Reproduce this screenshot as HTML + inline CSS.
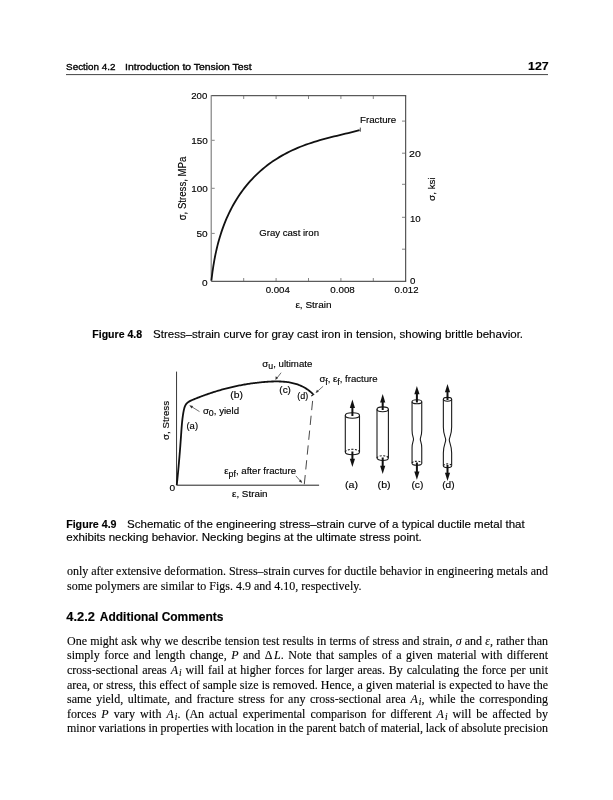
<!DOCTYPE html>
<html><head><meta charset="utf-8">
<style>
html,body{margin:0;padding:0;background:#fff;}
body{width:613px;height:800px;position:relative;overflow:hidden;}
.a{position:absolute;white-space:nowrap;}
.body{font-family:"Liberation Serif",serif;font-size:12px;line-height:14px;color:#000;left:67px;width:481px;}
.body i{font-style:italic;}
.body sub{font-size:9.5px;vertical-align:baseline;position:relative;top:1.5px;margin-left:1px;}
svg{position:absolute;left:0;top:0;will-change:transform;}
.body{will-change:transform;-webkit-text-stroke:0.12px #000;}
svg text{font-family:"Liberation Sans",sans-serif;fill:#000;stroke:#000;stroke-width:0.15px;}
</style></head>
<body>
<svg width="613" height="800" viewBox="0 0 613 800">
  <line x1="66" y1="74.6" x2="548" y2="74.6" stroke="#444" stroke-width="1"/>

  <!-- Figure 4.8 chart -->
  <g stroke="#333" fill="none" stroke-width="1">
    <line x1="211.2" y1="95.7" x2="406.2" y2="95.7"/>
    <line x1="405.7" y1="95.7" x2="405.7" y2="281.3"/>
    <line x1="211.2" y1="281.3" x2="406.2" y2="281.3"/>
  </g>
  <line x1="211.2" y1="95.2" x2="211.2" y2="281.3" stroke="#777" stroke-width="1.1"/>
  <g stroke="#666" stroke-width="0.8">
    <line x1="211.8" y1="140.3" x2="214.7" y2="140.3"/>
    <line x1="211.8" y1="188.3" x2="214.7" y2="188.3"/>
    <line x1="211.8" y1="233.4" x2="214.7" y2="233.4"/>
    <line x1="243.7" y1="281" x2="243.7" y2="278"/>
    <line x1="276.1" y1="281" x2="276.1" y2="278"/>
    <line x1="308.5" y1="281" x2="308.5" y2="278"/>
    <line x1="340.9" y1="281" x2="340.9" y2="278"/>
    <line x1="373.3" y1="281" x2="373.3" y2="278"/>
    <line x1="243.7" y1="96" x2="243.7" y2="99"/>
    <line x1="276.1" y1="96" x2="276.1" y2="99"/>
    <line x1="308.5" y1="96" x2="308.5" y2="99"/>
    <line x1="340.9" y1="96" x2="340.9" y2="99"/>
    <line x1="373.3" y1="96" x2="373.3" y2="99"/>
    <line x1="405.2" y1="121.1" x2="402" y2="121.1"/>
    <line x1="405.2" y1="153.2" x2="402" y2="153.2"/>
    <line x1="405.2" y1="184.3" x2="402" y2="184.3"/>
    <line x1="405.2" y1="217.3" x2="402" y2="217.3"/>
    <line x1="405.2" y1="249.2" x2="402" y2="249.2"/>
  </g>
  <path d="M211.40,280.55 L211.75,277.59 L212.12,274.65 L212.51,271.73 L212.93,268.82 L213.37,265.92 L213.84,263.03 L214.35,260.15 L214.89,257.28 L215.46,254.42 L216.07,251.57 L216.72,248.73 L217.40,245.90 L218.13,243.07 L218.90,240.26 L219.71,237.45 L220.57,234.66 L221.47,231.88 L222.42,229.11 L223.42,226.36 L224.46,223.62 L225.56,220.90 L226.70,218.20 L227.90,215.52 L229.15,212.86 L230.45,210.23 L231.80,207.62 L233.21,205.04 L234.67,202.50 L236.18,199.98 L237.74,197.49 L239.36,195.04 L241.03,192.63 L242.75,190.25 L244.53,187.92 L246.35,185.63 L248.23,183.38 L250.16,181.17 L252.14,179.02 L254.16,176.91 L256.24,174.84 L258.36,172.83 L260.53,170.87 L262.74,168.96 L265.00,167.11 L267.30,165.31 L269.64,163.56 L272.02,161.86 L274.43,160.22 L276.89,158.64 L279.38,157.11 L281.91,155.64 L284.46,154.22 L287.05,152.85 L289.67,151.53 L292.31,150.27 L294.98,149.06 L297.67,147.90 L300.38,146.79 L303.12,145.72 L305.87,144.70 L308.64,143.73 L311.42,142.79 L314.22,141.89 L317.03,141.03 L319.85,140.20 L322.68,139.41 L325.51,138.63 L328.35,137.89 L331.19,137.16 L334.04,136.45 L336.88,135.76 L339.73,135.07 L342.58,134.39 L345.42,133.71 L348.26,133.02 L351.10,132.32 L353.93,131.61 L356.76,130.88 L359.59,130.12" stroke="#111" stroke-width="1.8" fill="none" stroke-linejoin="round"/>
  <line x1="360.3" y1="127.6" x2="360.3" y2="131.7" stroke="#333" stroke-width="0.9"/>

  <!-- Figure 4.9 chart -->
  <line x1="176.55" y1="371.6" x2="176.55" y2="485.1" stroke="#222" stroke-width="0.9"/>
  <line x1="176.5" y1="485.2" x2="319.1" y2="485.2" stroke="#222" stroke-width="1"/>
  <path d="M176.76,485.00 L176.88,483.92 L176.99,482.83 L177.10,481.75 L177.22,480.66 L177.33,479.58 L177.44,478.49 L177.54,477.41 L177.65,476.33 L177.76,475.24 L177.86,474.16 L177.97,473.08 L178.07,472.00 L178.17,470.92 L178.28,469.84 L178.38,468.76 L178.48,467.68 L178.58,466.60 L178.67,465.52 L178.77,464.44 L178.87,463.36 L178.96,462.28 L179.06,461.20 L179.15,460.12 L179.24,459.04 L179.34,457.96 L179.43,456.88 L179.52,455.80 L179.61,454.73 L179.69,453.65 L179.78,452.57 L179.87,451.49 L179.95,450.41 L180.04,449.33 L180.12,448.25 L180.21,447.17 L180.29,446.09 L180.37,445.01 L180.45,443.93 L180.53,442.85 L180.61,441.76 L180.69,440.68 L180.77,439.60 L180.85,438.52 L180.92,437.43 L181.00,436.35 L181.07,435.27 L181.15,434.18 L181.22,433.10 L181.30,432.01 L181.37,430.92 L181.45,429.84 L181.53,428.75 L181.61,427.66 L181.70,426.58 L181.79,425.49 L181.88,424.40 L181.98,423.31 L182.08,422.22 L182.19,421.13 L182.31,420.04 L182.44,418.95 L182.57,417.86 L182.72,416.77 L182.87,415.68 L183.03,414.59 L183.21,413.50 L183.39,412.41 L183.59,411.32 L183.80,410.24 L184.04,409.16 L184.32,408.11 L184.64,407.10 L185.01,406.12 L185.46,405.20 L185.97,404.34 L186.57,403.55 L187.27,402.83 L188.05,402.20 L188.92,401.63 L189.85,401.12 L190.82,400.65 L191.82,400.20 L192.84,399.78 L193.85,399.35 L194.87,398.94 L195.89,398.52 L196.91,398.11 L197.93,397.71 L198.95,397.31 L199.97,396.92 L200.99,396.53 L202.01,396.14 L203.03,395.76 L204.06,395.38 L205.08,395.01 L206.10,394.65 L207.13,394.29 L208.16,393.93 L209.18,393.58 L210.21,393.23 L211.24,392.89 L212.27,392.55 L213.30,392.22 L214.33,391.89 L215.36,391.56 L216.39,391.25 L217.43,390.93 L218.46,390.62 L219.50,390.32 L220.54,390.02 L221.58,389.73 L222.61,389.44 L223.65,389.15 L224.70,388.87 L225.74,388.60 L226.78,388.33 L227.83,388.06 L228.87,387.80 L229.92,387.55 L230.97,387.29 L232.02,387.05 L233.07,386.81 L234.12,386.57 L235.18,386.34 L236.23,386.12 L237.29,385.90 L238.35,385.68 L239.41,385.47 L240.47,385.26 L241.53,385.06 L242.59,384.87 L243.66,384.68 L244.72,384.49 L245.79,384.31 L246.86,384.13 L247.93,383.96 L249.01,383.80 L250.08,383.64 L251.16,383.48 L252.23,383.33 L253.31,383.19 L254.40,383.05 L255.48,382.91 L256.56,382.78 L257.65,382.65 L258.74,382.54 L259.83,382.42 L260.92,382.31 L262.01,382.21 L263.11,382.11 L264.21,382.01 L265.31,381.92 L266.41,381.84 L267.51,381.76 L268.61,381.69 L269.72,381.63 L270.82,381.57 L271.93,381.52 L273.03,381.49 L274.14,381.46 L275.24,381.44 L276.34,381.43 L277.45,381.43 L278.54,381.45 L279.64,381.48 L280.73,381.52 L281.83,381.57 L282.91,381.64 L284.00,381.73 L285.08,381.83 L286.15,381.94 L287.22,382.08 L288.29,382.23 L289.35,382.40 L290.40,382.58 L291.45,382.79 L292.49,383.02 L293.53,383.27 L294.56,383.53 L295.58,383.82 L296.59,384.14 L297.59,384.47 L298.59,384.83 L299.58,385.22 L300.55,385.62 L301.52,386.06 L302.48,386.52 L303.43,387.00 L304.37,387.52 L305.29,388.06 L306.21,388.63 L307.11,389.23 L308.01,389.85 L308.89,390.51 L309.75,391.20 L310.61,391.92 L311.45,392.67 L312.28,393.46 L313.09,394.28" stroke="#111" stroke-width="1.8" fill="none" stroke-linejoin="round"/>
  <line x1="311.2" y1="396.1" x2="314.2" y2="394.1" stroke="#111" stroke-width="1.1"/>
  <path d="M312.6,400.9 L304.25,484.8" stroke="#333" stroke-width="0.9" stroke-dasharray="9.3,5.6" fill="none"/>
  <g stroke="#333" stroke-width="0.7" fill="none">
    <line x1="199.5" y1="411.6" x2="190.8" y2="406.2"/>
    <line x1="281.1" y1="372.7" x2="276.6" y2="378.6"/>
    <line x1="323.1" y1="386.3" x2="317" y2="391.7"/>
    <line x1="295.9" y1="475.9" x2="301.3" y2="482"/>
  </g>
  <g fill="#333">
    <path d="M189.3,405.3 L193.1,406.1 L191.6,408.5 Z"/>
    <path d="M275.4,380.1 L275.7,376.3 L278.1,377.9 Z"/>
    <path d="M315.6,392.9 L317,389.8 L318.8,391.8 Z"/>
    <path d="M302.2,483.1 L298.8,481.2 L300.9,479.4 Z"/>
  </g>

  <!-- specimens -->
  <g stroke="#1a1a1a" stroke-width="1.1" fill="none">
    <ellipse cx="352.4" cy="415.5" rx="7.1" ry="2.7" fill="#fff"/>
    <line x1="345.3" y1="415.5" x2="345.3" y2="452"/>
    <line x1="359.5" y1="415.5" x2="359.5" y2="452"/>
    <path d="M345.3,452 A7.1,2.7 0 0 0 359.5,452"/>
    <path d="M345.3,452 A7.1,2.7 0 0 1 359.5,452" stroke-dasharray="2,1.5"/>
    <ellipse cx="382.7" cy="409.3" rx="5.7" ry="2.4" fill="#fff"/>
    <line x1="377" y1="409.3" x2="377" y2="458.1"/>
    <line x1="388.4" y1="409.3" x2="388.4" y2="458.1"/>
    <path d="M377,458.1 A5.7,2.4 0 0 0 388.4,458.1"/>
    <path d="M377,458.1 A5.7,2.4 0 0 1 388.4,458.1" stroke-dasharray="2,1.5"/>
    <ellipse cx="416.9" cy="401.7" rx="4.85" ry="2" fill="#fff"/>
    <path d="M412.05,401.7 L412.05,430 C412.05,436 413.5,437 413.5,439.2 C413.5,441.5 412.05,442.5 412.05,448 L412.05,463.2"/>
    <path d="M421.75,401.7 L421.75,430 C421.75,436 420.3,437 420.3,439.2 C420.3,441.5 421.75,442.5 421.75,448 L421.75,463.2"/>
    <path d="M412.05,463.2 A4.85,2 0 0 0 421.75,463.2"/>
    <path d="M412.05,463.2 A4.85,2 0 0 1 421.75,463.2" stroke-dasharray="2,1.5"/>
    <ellipse cx="447.5" cy="399.3" rx="4.15" ry="1.9" fill="#fff"/>
    <path d="M443.35,399.3 L443.35,427 C443.35,435 445.7,437 445.7,440 C445.7,443 443.35,445 443.35,453 L443.35,465.8"/>
    <path d="M451.65,399.3 L451.65,427 C451.65,435 449.3,437 449.3,440 C449.3,443 451.65,445 451.65,453 L451.65,465.8"/>
    <path d="M443.35,465.8 A4.15,1.9 0 0 0 451.65,465.8"/>
    <path d="M443.35,465.8 A4.15,1.9 0 0 1 451.65,465.8" stroke-dasharray="2,1.5"/>
  </g>
  <g stroke="#111" stroke-width="2">
    <line x1="352.4" y1="405" x2="352.4" y2="416"/>
    <line x1="352.4" y1="451.5" x2="352.4" y2="462"/>
    <line x1="382.7" y1="399.5" x2="382.7" y2="410"/>
    <line x1="382.7" y1="457.5" x2="382.7" y2="469"/>
    <line x1="416.9" y1="391.5" x2="416.9" y2="402.5"/>
    <line x1="416.9" y1="462.5" x2="416.9" y2="474.5"/>
    <line x1="447.5" y1="390" x2="447.5" y2="400"/>
    <line x1="447.5" y1="465" x2="447.5" y2="474"/>
  </g>
  <g fill="#111">
    <path d="M352.4,399.6 L355.0,407.9 L349.79999999999995,407.9 Z"/>
    <path d="M352.4,467 L355.0,458.7 L349.79999999999995,458.7 Z"/>
    <path d="M382.7,394.1 L385.3,402.4 L380.09999999999997,402.4 Z"/>
    <path d="M382.7,474 L385.3,465.7 L380.09999999999997,465.7 Z"/>
    <path d="M416.9,386 L419.5,394.3 L414.29999999999995,394.3 Z"/>
    <path d="M416.9,479.7 L419.5,471.4 L414.29999999999995,471.4 Z"/>
    <path d="M447.5,383.9 L450.1,392.2 L444.9,392.2 Z"/>
    <path d="M447.5,481 L450.1,472.7 L444.9,472.7 Z"/>
  </g>

<text transform="translate(66.10,69.90) scale(1.0063,1)" font-size="9.8" style="stroke-width:0.35px">Section 4.2</text>
<text transform="translate(125.07,69.90) scale(1.0644,1)" font-size="9.8" style="stroke-width:0.35px">Introduction to Tension Test</text>
<text transform="translate(528.01,69.70) scale(1.0503,1)" font-size="11.8" font-weight="700">127</text>
<text transform="translate(191.28,98.90) scale(1.0414,1)" font-size="9.2">200</text>
<text transform="translate(191.19,143.70) scale(1.0807,1)" font-size="9.2">150</text>
<text transform="translate(191.19,191.70) scale(1.0737,1)" font-size="9.2">100</text>
<text transform="translate(196.49,236.70) scale(1.0947,1)" font-size="9.2">50</text>
<text transform="translate(202.09,285.90) scale(1.0971,1)" font-size="9.2">0</text>
<text transform="translate(409.12,157.00) scale(1.1520,1)" font-size="9.2">20</text>
<text transform="translate(409.91,221.80) scale(1.0521,1)" font-size="9.2">10</text>
<text transform="translate(409.89,284.40) scale(1.0824,1)" font-size="9.0">0</text>
<text transform="translate(265.70,292.80) scale(1.0743,1)" font-size="9.0">0.004</text>
<text transform="translate(330.29,292.80) scale(1.0897,1)" font-size="9.0">0.008</text>
<text transform="translate(394.60,292.70) scale(1.0621,1)" font-size="9.0">0.012</text>
<text transform="translate(295.39,307.50) scale(1.0884,1)" font-size="9.2">ε, Strain</text>
<text transform="translate(259.25,235.70) scale(1.0921,1)" font-size="8.8">Gray cast iron</text>
<text transform="translate(359.92,123.00) scale(1.0400,1)" font-size="9.4">Fracture</text>
<text transform="translate(186.00,220.36) rotate(-90) scale(0.9549,1)" font-size="10.1">σ, Stress, MPa</text>
<text transform="translate(434.60,200.88) rotate(-90) scale(1.0056,1)" font-size="9.8">σ, ksi</text>
<text transform="translate(169.51,491.00) scale(1.0316,1)" font-size="9.8">0</text>
<text transform="translate(186.46,428.60) scale(1.0300,1)" font-size="9.2">(a)</text>
<text transform="translate(230.19,397.50) scale(1.1300,1)" font-size="9.2">(b)</text>
<text transform="translate(279.32,393.30) scale(1.0842,1)" font-size="9.2">(c)</text>
<text transform="translate(297.29,399.20) scale(0.9800,1)" font-size="9.2">(d)</text>
<text transform="translate(202.90,413.50) scale(1.0759,1)" font-size="9.0">σ<tspan font-size="8.2" dy="2.6">0</tspan><tspan dy="-2.6">, yield</tspan></text>
<text transform="translate(262.30,366.60) scale(1.0725,1)" font-size="9.0">σ<tspan font-size="8.2" dy="2.6">u</tspan><tspan dy="-2.6">, ultimate</tspan></text>
<text transform="translate(319.40,382.00) scale(1.0654,1)" font-size="9.0">σ<tspan font-size="8.2" dy="2.6">f</tspan><tspan dy="-2.6">, ε</tspan><tspan font-size="8.2" dy="2.6">f</tspan><tspan dy="-2.6">, fracture</tspan></text>
<text transform="translate(224.30,474.00) scale(1.0737,1)" font-size="9.0">ε<tspan font-size="8.2" dy="2.6">pf</tspan><tspan dy="-2.6">, after fracture</tspan></text>
<text transform="translate(231.99,496.60) scale(1.0941,1)" font-size="9.0">ε, Strain</text>
<text transform="translate(168.50,439.89) rotate(-90) scale(1.0438,1)" font-size="9.3">σ, Stress</text>
<text transform="translate(344.91,488.30) scale(1.1848,1)" font-size="9.0">(a)</text>
<text transform="translate(377.61,488.30) scale(1.1848,1)" font-size="9.0">(b)</text>
<text transform="translate(411.43,488.30) scale(1.1307,1)" font-size="9.0">(c)</text>
<text transform="translate(442.24,488.30) scale(1.1241,1)" font-size="9.0">(d)</text>
<text transform="translate(92.25,337.70) scale(0.9980,1)" font-size="10.6" font-weight="700">Figure 4.8</text>
<text transform="translate(153.06,337.70) scale(1.0875,1)" font-size="10.6">Stress–strain curve for gray cast iron in tension, showing brittle behavior.</text>
<text transform="translate(66.14,527.80) scale(1.0087,1)" font-size="10.6" font-weight="700">Figure 4.9</text>
<text transform="translate(127.06,527.80) scale(1.0880,1)" font-size="10.6">Schematic of the engineering stress–strain curve of a typical ductile metal that</text>
<text transform="translate(66.36,540.80) scale(1.0895,1)" font-size="10.6">exhibits necking behavior. Necking begins at the ultimate stress point.</text>
<text transform="translate(66.37,620.90) scale(1.0566,1)" font-size="12.2" font-weight="700">4.2.2</text>
<text transform="translate(99.83,620.90) scale(0.9814,1)" font-size="12.2" font-weight="700">Additional Comments</text>
</svg>

<div class="a body" style="top:564.2px;word-spacing:-0.099px">only after extensive deformation. Stress–strain curves for ductile behavior in engineering metals and</div>
<div class="a body" style="top:579px">some polymers are similar to Figs. 4.9 and 4.10, respectively.</div>

<div class="a body" style="top:633.6px;word-spacing:0.181px">One might ask why we describe tension test results in terms of stress and strain, <i>σ</i> and <i>ε</i>, rather than</div>
<div class="a body" style="top:648.2px;word-spacing:1.506px">simply force and length change, <i>P</i> and Δ<i style="margin-left:1.5px">L</i>. Note that samples of a given material with different</div>
<div class="a body" style="top:662.9px;word-spacing:0.839px">cross-sectional areas <i>A<sub>i</sub></i> will fail at higher forces for larger areas. By calculating the force per unit</div>
<div class="a body" style="top:677.5px;word-spacing:0.115px">area, or stress, this effect of sample size is removed. Hence, a given material is expected to have the</div>
<div class="a body" style="top:692.1px;word-spacing:1.552px">same yield, ultimate, and fracture stress for any cross-sectional area <i>A<sub>i</sub></i>, while the corresponding</div>
<div class="a body" style="top:706.8px;word-spacing:2.018px">forces <i>P</i> vary with <i>A<sub>i</sub></i>. (An actual experimental comparison for different <i>A<sub>i</sub></i> will be affected by</div>
<div class="a body" style="top:721.4px;word-spacing:-0.235px">minor variations in properties with location in the parent batch of material, lack of absolute precision</div>
</body></html>
